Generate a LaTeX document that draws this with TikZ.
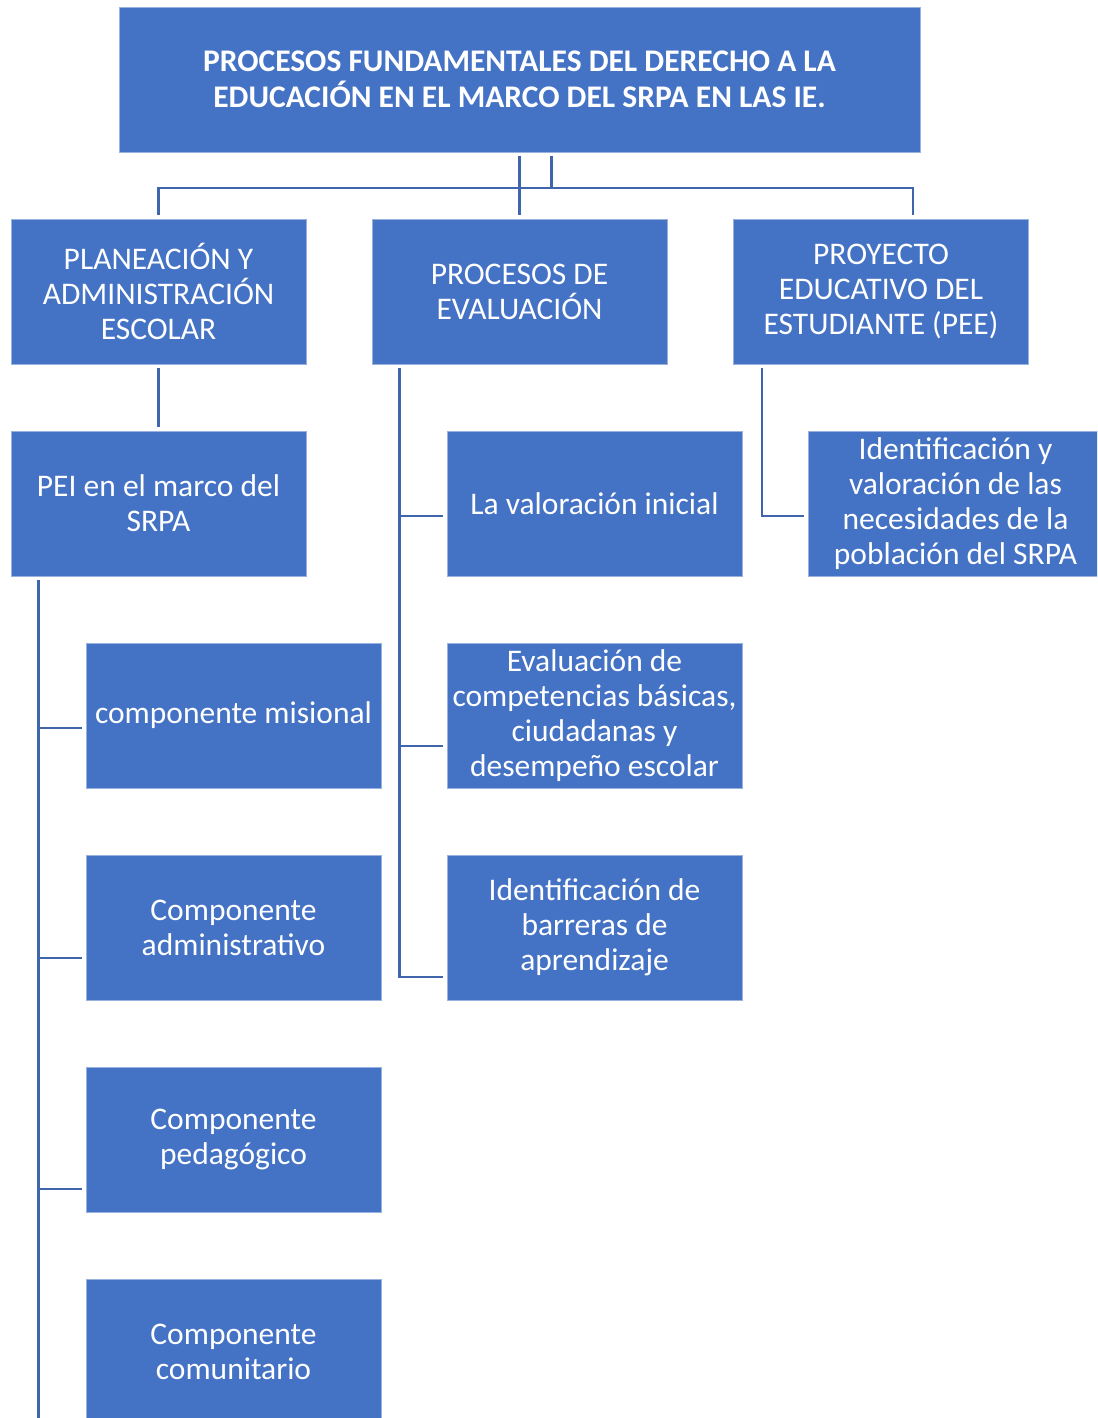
\documentclass[tikz,border=0pt]{standalone}
\usepackage{fontspec}
\setmainfont{Carlito}
\definecolor{boxblue}{HTML}{4472C4}
\definecolor{linkblue}{HTML}{3F65AD}
\begin{document}
\begin{tikzpicture}[x=1pt,y=-1pt,
  box/.style={rectangle,fill=boxblue,draw=boxblue!55!white,line width=0.8pt,
    minimum width=295pt,minimum height=145pt,inner sep=1pt,align=center,
    text=white,font=\fontsize{31.5}{35}\selectfont},
  topbox/.style={box,minimum width=801pt,font=\fontsize{31.5}{36}\selectfont\bfseries},
  conn/.style={draw=linkblue,line width=2.6pt}]
\useasboundingbox (0,0) rectangle (1097,1418);
\clip (0,0) rectangle (1097,1418);
% nodes
\node[topbox] (top) at (519.5,79.5) {PROCESOS FUNDAMENTALES DEL DERECHO A LA\\EDUCACIÓN EN EL MARCO DEL SRPA EN LAS IE.};
\node[box] (pl) at (158.5,291.5) {PLANEACIÓN Y\\ADMINISTRACIÓN\\ESCOLAR};
\node[box] (pe) at (519.5,291.5) {PROCESOS DE\\EVALUACIÓN};
\node[box] (pr) at (881,291.5) {PROYECTO\\EDUCATIVO DEL\\ESTUDIANTE (PEE)};
\node[box] (pei) at (158.5,503.5) {PEI en el marco del\\SRPA};
\node[box] (c1) at (233.5,715.5) {componente misional};
\node[box] (c2) at (233.5,927.5) {Componente\\administrativo};
\node[box] (c3) at (233.5,1139.5) {Componente\\pedagógico};
\node[box] (c4) at (233.5,1351.5) {Componente\\comunitario};
\node[box] (e1) at (594.5,503.5) {La valoración inicial};
\node[box] (e2) at (594.5,715.5) {Evaluación de\\competencias básicas,\\ciudadanas y\\desempeño escolar};
\node[box] (e3) at (594.5,927.5) {Identificación de\\barreras de\\aprendizaje};
\node[box] (r1) at (955.5,503.5) {Identificación y\\valoración de las\\necesidades de la\\población del SRPA};
% top connectors
\coordinate (bus) at (519.5,188);
\draw[conn] ([yshift=-4pt]top.south) -- ([yshift=4pt]pe.north);
\draw[conn] ([xshift=32pt,yshift=-4pt]top.south) -- ([xshift=32pt]top.south |- bus);
\draw[conn] ([yshift=4pt]pl.north) |- (bus);
\draw[conn] ([xshift=32pt,yshift=4pt]pr.north) |- (bus);
% left branch
\draw[conn] ([yshift=-4pt]pl.south) -- ([yshift=4pt]pei.north);
\coordinate (ls) at ([xshift=28pt,yshift=-4pt]pei.south west);
\draw[conn] (ls) |- ([xshift=-4pt,yshift=-12.5pt]c1.west);
\draw[conn] (ls) |- ([xshift=-4pt,yshift=-30.5pt]c2.west);
\draw[conn] (ls) |- ([xshift=-4pt,yshift=-49.5pt]c3.west);
\draw[conn] (ls) |- ([xshift=-4pt,yshift=-68pt]c4.west);
% middle branch
\coordinate (ms) at ([xshift=28pt,yshift=-4pt]pe.south west);
\draw[conn] (ms) |- ([xshift=-4pt,yshift=-12.5pt]e1.west);
\draw[conn] (ms) |- ([xshift=-4pt,yshift=-30.5pt]e2.west);
\draw[conn] (ms) |- ([xshift=-4pt,yshift=-49.5pt]e3.west);
% right branch
\coordinate (rs) at ([xshift=29pt,yshift=-4pt]pr.south west);
\draw[conn] (rs) |- ([xshift=-4pt,yshift=-12.5pt]r1.west);
\end{tikzpicture}
\end{document}
